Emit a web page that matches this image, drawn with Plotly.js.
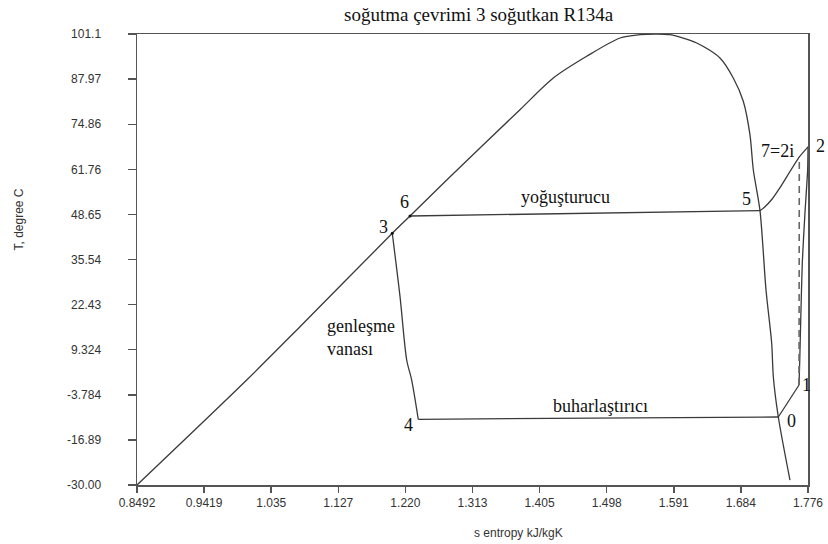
<!DOCTYPE html>
<html>
<head>
<meta charset="utf-8">
<script src="https://cdn.plot.ly/plotly-3.0.1.min.js"></script>
<style>html,body{margin:0;padding:0;background:#fff;}#chart{width:828px;height:544px;}</style>
</head>
<body>
<div id="chart"></div>
<script>
// Saturation dome (liquid + vapour line), s in kJ/kgK, T in degree C
var domeS = [0.8492, 1.0007, 1.0743, 1.2018, 1.2263, 1.2770, 1.3782, 1.4242, 1.4703, 1.5163, 1.5439, 1.5647,
             1.5854, 1.6223, 1.6544, 1.6728, 1.6866, 1.6958, 1.7005, 1.7097, 1.7180, 1.7258, 1.7281, 1.7350, 1.7511];
var domeT = [-30.00, 0.52, 16.02, 43.17, 48.20, 58.66, 79.10, 88.31, 94.62, 99.94, 100.90, 101.1,
             100.90, 98.49, 94.13, 88.31, 81.54, 71.83, 61.57, 49.74, 26.69, 11.28, 1.48, -10.23, -28.55];

// Cycle segments
var condS = [1.2263, 1.7097];            // 6 -> 5
var condT = [48.20, 49.74];
var superS = [1.7097, 1.7155, 1.7265, 1.7362, 1.7640, 1.7760];   // 5 -> 7=2i -> 2
var superT = [49.74, 50.67, 53.14, 56.05, 65.35, 68.30];
var expS = [1.2018, 1.2125, 1.2217, 1.2286, 1.2377];              // 3 -> 4
var expT = [43.17, 24.74, 6.34, 0.52, -10.90];
var evapS = [1.2377, 1.7350];            // 4 -> 0
var evapT = [-10.90, -10.23];
var shS = [1.7350, 1.7636];              // 0 -> 1
var shT = [-10.23, -0.93];
var compS = [1.7636, 1.7645, 1.7659, 1.7681, 1.7718, 1.7755, 1.7760];  // 1 -> 2
var compT = [-0.93, 5.47, 17.38, 34.53, 49.07, 61.57, 68.30];
var isenS = [1.7636, 1.7640];            // 1 -> 2i (isentropic)
var isenT = [-0.93, 65.35];

// State points
var stateNames = ["0", "1", "2", "7=2i", "3", "4", "5", "6"];
var stateS = [1.7350, 1.7636, 1.7760, 1.7640, 1.2018, 1.2377, 1.7097, 1.2263];
var stateT = [-10.23, -0.93, 68.30, 65.35, 43.17, -10.90, 49.74, 48.20];

// Axis ticks
var xTickVals = [0.8492, 0.9419, 1.0346, 1.1272, 1.2199, 1.3126, 1.4053, 1.4980, 1.5906, 1.6833, 1.7760];
var xTickText = ["0.8492", "0.9419", "1.035", "1.127", "1.220", "1.313", "1.405", "1.498", "1.591", "1.684", "1.776"];
var yTickVals = [-30.00, -16.89, -3.784, 9.324, 22.43, 35.54, 48.65, 61.76, 74.86, 87.97, 101.1];
var yTickText = ["-30.00", "-16.89", "-3.784", "9.324", "22.43", "35.54", "48.65", "61.76", "74.86", "87.97", "101.1"];

var lineColor = '#3a3a3a';
function seg(xs, ys, extra) {
  var t = {x: xs, y: ys, type: 'scatter', mode: 'lines', hoverinfo: 'skip',
           line: {color: lineColor, width: 1.3}};
  if (extra) { for (var k in extra) t.line[k] = extra[k]; }
  return t;
}

var traces = [
  seg(domeS, domeT, {shape: 'spline', smoothing: 0.8}),
  seg(condS, condT),
  seg(superS, superT, {shape: 'spline', smoothing: 0.5}),
  seg(expS, expT, {shape: 'spline', smoothing: 0.8}),
  seg(evapS, evapT),
  seg(shS, shT),
  seg(compS, compT, {shape: 'spline', smoothing: 0.6}),
  seg(isenS, isenT, {dash: '7px,5px', color: '#666', width: 1.6}),
  {x: [stateS[4], stateS[7]], y: [stateT[4], stateT[7]], type: 'scatter', mode: 'markers',
   marker: {color: '#111', size: 3}, hoverinfo: 'skip'}
];

var labelFont = {family: 'Liberation Serif, Times New Roman, serif', size: 18, color: '#111'};
var shifts = {"0": [13, -4], "1": [7, 0], "2": [12, 1], "7=2i": [-22, 6],
              "3": [-9, 6], "4": [-10, -6], "5": [-14, 12], "6": [-6, 14]};
var annotations = stateNames.map(function (n, i) {
  return {x: stateS[i], y: stateT[i], xref: 'x', yref: 'y', text: n, showarrow: false,
          xshift: shifts[n][0], yshift: shifts[n][1], font: labelFont};
});
annotations.push({x: 1.4404, y: 53.7, xref: 'x', yref: 'y', text: 'yoğuşturucu', showarrow: false, font: labelFont});
annotations.push({x: 1.4887, y: -7.0, xref: 'x', yref: 'y', text: 'buharlaştırıcı', showarrow: false, font: labelFont});
annotations.push({x: 1.1089, y: 13.0, xref: 'x', yref: 'y', text: 'genleşme<br>vanası', showarrow: false,
                  xanchor: 'left', align: 'left', font: labelFont});
annotations.push({x: 0, y: 0.5, xref: 'paper', yref: 'paper', text: 'T, degree C', showarrow: false,
                  textangle: -90, xanchor: 'center', yanchor: 'middle', xshift: -119, yshift: 40,
                  font: {family: 'Liberation Sans, Arial, sans-serif', size: 12, color: '#333'}});
annotations.push({x: 0.569, y: 0, xref: 'paper', yref: 'paper', text: 's entropy kJ/kgK', showarrow: false,
                  xanchor: 'center', yanchor: 'middle', yshift: -48,
                  font: {family: 'Liberation Sans, Arial, sans-serif', size: 12, color: '#333'}});
annotations.push({x: 0.51, y: 1, xref: 'paper', yref: 'paper', text: 'soğutma çevrimi 3 soğutkan R134a', showarrow: false,
                  xanchor: 'center', yanchor: 'middle', yshift: 20,
                  font: {family: 'Liberation Serif, Times New Roman, serif', size: 19, color: '#111'}});

var tickFont = {family: 'Liberation Sans, Arial, sans-serif', size: 12, color: '#333'};
var layout = {
  width: 828, height: 544,
  margin: {l: 137, r: 20, t: 34, b: 59},
  paper_bgcolor: '#fff', plot_bgcolor: '#fff',
  showlegend: false,
  xaxis: {range: [0.8492, 1.776], tickmode: 'array', tickvals: xTickVals, ticktext: xTickText,
          showgrid: false, zeroline: false, showline: true, mirror: true, linecolor: '#555', linewidth: 1.5,
          ticks: 'outside', ticklen: 6, tickcolor: '#555', tickwidth: 1.5, tickfont: tickFont},
  yaxis: {range: [-30, 101.1], tickmode: 'array', tickvals: yTickVals, ticktext: yTickText,
          showgrid: false, zeroline: false, showline: true, mirror: true, linecolor: '#555', linewidth: 1.5,
          ticks: 'outside', ticklen: 8, tickcolor: '#555', tickwidth: 1.5, tickfont: tickFont,
          ticklabelstandoff: 24},
  annotations: annotations
};

Plotly.newPlot('chart', traces, layout, {displayModeBar: false, staticPlot: true});
</script>
</body>
</html>
